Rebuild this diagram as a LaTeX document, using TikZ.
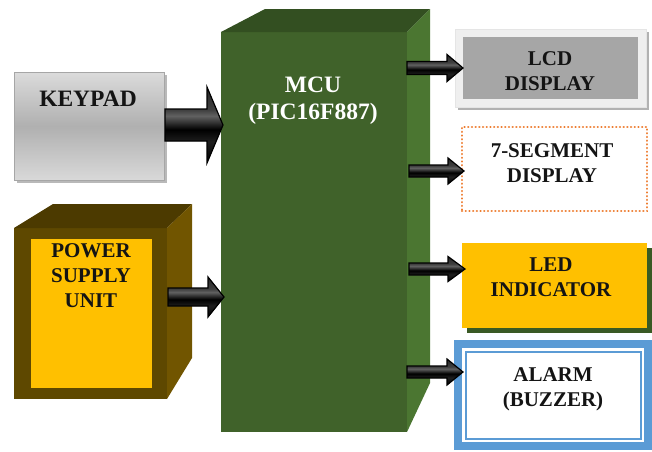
\documentclass[tikz,border=0pt]{standalone}
\usepackage{fontspec}
\setmainfont{Liberation Serif}[BoldFont={Liberation Serif Bold}]
\newfontfamily\tnrb{Liberation Serif Bold}
\usetikzlibrary{calc}
\definecolor{mcufront}{HTML}{40622A}
\definecolor{mcutop}{HTML}{334F21}
\definecolor{mcuside}{HTML}{4B7631}
\definecolor{psufront}{HTML}{5E4800}
\definecolor{psutop}{HTML}{4C3A00}
\definecolor{psuside}{HTML}{715500}
\definecolor{gold}{HTML}{FFC000}
\definecolor{orangeline}{HTML}{ED7D31}
\definecolor{bluefr}{HTML}{5B9BD5}
\definecolor{ledshadow}{HTML}{3A5A24}
\definecolor{lcdfill}{HTML}{A6A6A6}
\definecolor{lcdframe}{HTML}{EFEFEF}
\definecolor{txt}{HTML}{141414}
\pgfdeclareverticalshading{arrowshade}{100bp}{color(0bp)=(black); color(25bp)=(black); color(39bp)=(black!88); color(47bp)=(black); color(56bp)=(black!62); color(60bp)=(black!75); color(75bp)=(black!85); color(100bp)=(black!85)}
\newcommand\blockarrow[5]{%
  \fill[gray!75, shift={(3,3)}] ($(#1)+(0,-#3)$) -- ($(#2)+(-#5,-#3)$) -- ($(#2)+(-#5,-#4)$) -- (#2) -- ($(#2)+(-#5,#4)$) -- ($(#2)+(-#5,#3)$) -- ($(#1)+(0,#3)$) -- cycle;
  \draw[line width=1.2pt, shading=arrowshade, line join=miter] ($(#1)+(0,-#3)$) -- ($(#2)+(-#5,-#3)$) -- ($(#2)+(-#5,-#4)$) -- (#2) -- ($(#2)+(-#5,#4)$) -- ($(#2)+(-#5,#3)$) -- ($(#1)+(0,#3)$) -- cycle;
}
\tikzset{
  lbl/.style={font=\fontsize{21}{25}\selectfont\tnrb, text=txt, align=center, inner sep=0},
  face/.style={inner sep=0, outer sep=0}
}
\begin{document}
\begin{tikzpicture}[x=1pt,y=-1pt]
\useasboundingbox (0,0) rectangle (652,451);
% MCU
\node[face, fill=mcufront, minimum width=186, minimum height=400] (mcu) at (314,232) {};
\coordinate (mtb) at (265,9);
\coordinate (mtr) at (430,9);
\coordinate (mbr) at (430,383);
\fill[mcutop] (mcu.north west) -- (mtb) -- (mtr) -- (mcu.north east) -- cycle;
\fill[mcuside] (mcu.north east) -- (mtr) -- (mbr) -- (mcu.south east) -- cycle;
\node[lbl, text=white, font=\fontsize{23.5}{27}\selectfont\tnrb] (mcut) at (313,101) {MCU\\(PIC16F887)};
% KEYPAD
\fill[gray!55] (17,75) rectangle (167,183);
\node[face, draw=gray!70, line width=1pt, minimum width=150, minimum height=108,
  top color=gray!28, bottom color=gray!30, middle color=gray!62] (keypad) at (89,126) {};
\node[lbl, font=\fontsize{23.5}{27}\selectfont\tnrb] (keyt) at (88,99) {KEYPAD};
% POWER SUPPLY
\node[face, fill=psufront, minimum width=153, minimum height=171] (psu) at (90.5,313.5) {};
\coordinate (ptl) at (53,204);
\coordinate (ptr) at (192,204);
\coordinate (pbr) at (192,358);
\fill[psutop] (psu.north west) -- (ptl) -- (ptr) -- (psu.north east) -- cycle;
\fill[psuside] (psu.north east) -- (ptr) -- (pbr) -- (psu.south east) -- cycle;
\node[face, fill=gold, minimum width=121, minimum height=149] (psuin) at (91.5,313.5) {};
\node[lbl] (psut) at (91,276) {POWER\\SUPPLY\\UNIT};
% LCD
\fill[gray!60] (458,32) rectangle (649,110);
\node[face, fill=lcdframe, draw=gray!20, minimum width=191, minimum height=78] (lcdo) at (550.5,68) {};
\node[face, fill=lcdfill, minimum width=175, minimum height=62] (lcd) at (550.5,68) {};
\node[lbl] (lcdt) at (550,71) {LCD\\DISPLAY};
% 7-SEGMENT
\node[face, draw=orangeline, line width=2.4pt, line cap=round, dash pattern=on 0.1pt off 3.6pt, minimum width=185, minimum height=84] (seg) at (554.5,169) {};
\node[lbl] (segt) at (552,163) {7-SEGMENT\\DISPLAY};
% LED
\fill[ledshadow] (467,248) rectangle (652,333);
\node[face, fill=gold, minimum width=185, minimum height=85] (led) at (554.5,285.5) {};
\node[lbl] (ledt) at (551,277) {LED\\INDICATOR};
% ALARM
\node[face, fill=bluefr, minimum width=198, minimum height=110] (alarmo) at (553,395) {};
\node[face, fill=white, minimum width=182, minimum height=94] (alarmw) at (553,395) {};
\node[face, draw=bluefr, line width=2pt, fill=white, minimum width=175, minimum height=87] (alarm) at (553,395) {};
\node[lbl] (alarmt) at (553,389) {ALARM\\(BUZZER)};
% arrows
\coordinate (k1) at (165,125); \coordinate (k2) at (223,125);
\coordinate (p1) at (168,297); \coordinate (p2) at (224,297);
\coordinate (l1) at (407,68);  \coordinate (l2) at (463,68);
\coordinate (s1) at (409,171); \coordinate (s2) at (464,171);
\coordinate (d1) at (409,269); \coordinate (d2) at (465,269);
\coordinate (b1) at (407,372); \coordinate (b2) at (463,372);
\blockarrow{k1}{k2}{16}{38}{16}
\blockarrow{p1}{p2}{9}{20}{16}
\blockarrow{l1}{l2}{6.5}{13.5}{16}
\blockarrow{s1}{s2}{6}{13}{16}
\blockarrow{d1}{d2}{6}{12.5}{17}
\blockarrow{b1}{b2}{6}{13}{16}
\end{tikzpicture}
\end{document}
